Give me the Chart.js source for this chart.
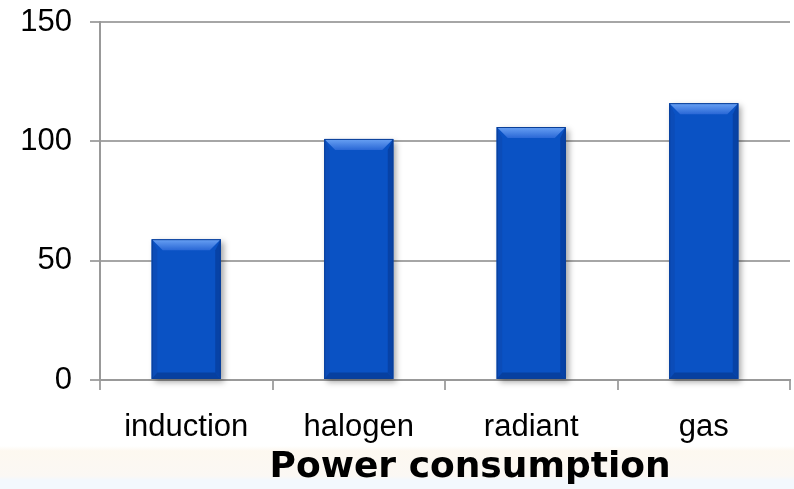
<!DOCTYPE html>
<html>
<head>
<meta charset="utf-8">
<script src="https://cdn.jsdelivr.net/npm/chart.js@4"></script>
<style>
  html, body { margin: 0; padding: 0; background: #fff; }
  #wrap { position: relative; width: 794px; height: 489px;
    background: linear-gradient(to bottom, #fff 0px, #fff 446px, #fdf8f0 451px, #fbf8f4 476px, #f3f8fd 480px, #f3f8fd 489px); }
</style>
</head>
<body>
<div id="wrap"><canvas id="myChart" width="794" height="489"></canvas></div>
<script>
const categories = ["induction", "halogen", "radiant", "gas"];
const values = [59, 101, 106, 116];
const yTicks = [0, 50, 100, 150];
const axisTitle = "\u00a0\u00a0\u00a0\u00a0Power consumption";

// draws the bevelled look of the bars on top of the flat fill
const bevel = {
  id: "bevel",
  beforeDatasetsDraw(chart) {
    const ctx = chart.ctx;
    ctx.save();
    ctx.shadowColor = "rgba(0,0,0,0.35)";
    ctx.shadowBlur = 6;
    ctx.shadowOffsetX = 3;
    ctx.shadowOffsetY = 3;
    chart.getDatasetMeta(0).data.forEach(b => {
      ctx.fillStyle = "#0a52c4";
      ctx.fillRect(b.x - b.width / 2, b.y, b.width, b.base - b.y);
    });
    ctx.restore();
  },
  afterDatasetsDraw(chart) {
    const ctx = chart.ctx;
    const s = 11;
    chart.getDatasetMeta(0).data.forEach(b => {
      const l = b.x - b.width / 2, r = b.x + b.width / 2, t = b.y, bt = b.base;
      ctx.save();
      // top
      let g = ctx.createLinearGradient(0, t, 0, t + s);
      g.addColorStop(0, "#6aa2f4");
      g.addColorStop(1, "#2a68d6");
      ctx.fillStyle = g;
      ctx.beginPath();
      ctx.moveTo(l, t); ctx.lineTo(r, t); ctx.lineTo(r - s, t + s); ctx.lineTo(l + s, t + s);
      ctx.closePath(); ctx.fill();
      // left
      ctx.fillStyle = "#0b4cb8";
      ctx.beginPath();
      ctx.moveTo(l, t); ctx.lineTo(l + s * 0.5, t + s); ctx.lineTo(l + s * 0.5, bt - s * 0.6); ctx.lineTo(l, bt);
      ctx.closePath(); ctx.fill();
      // right
      ctx.fillStyle = "#0742a6";
      ctx.beginPath();
      ctx.moveTo(r, t); ctx.lineTo(r - s * 0.5, t + s); ctx.lineTo(r - s * 0.5, bt - s * 0.6); ctx.lineTo(r, bt);
      ctx.closePath(); ctx.fill();
      // bottom
      ctx.fillStyle = "#0740a0";
      ctx.beginPath();
      ctx.moveTo(l, bt); ctx.lineTo(l + s * 0.5, bt - s * 0.6); ctx.lineTo(r - s * 0.5, bt - s * 0.6); ctx.lineTo(r, bt);
      ctx.closePath(); ctx.fill();
      ctx.strokeStyle = "#0a3f98";
      ctx.lineWidth = 1;
      ctx.strokeRect(l + 0.5, t + 0.5, b.width - 1, bt - t - 1);
      ctx.restore();
    });
  }
};

const ctx = document.getElementById("myChart");
new Chart(ctx, {
  type: "bar",
  data: {
    labels: categories,
    datasets: [{
      data: values,
      backgroundColor: "#0a52c4",
      borderWidth: 0,
      categoryPercentage: 0.4,
      barPercentage: 1
    }]
  },
  options: {
    responsive: false,
    animation: false,
    layout: { padding: { top: 22, right: 4, left: 0, bottom: 0 } },
    plugins: { legend: { display: false }, tooltip: { enabled: false } },
    scales: {
      y: {
        min: 0, max: 150,
        afterFit(scale) { scale.width = 100; scale.paddingTop = 0; },
        afterBuildTicks(scale) { scale.ticks = yTicks.map(v => ({ value: v })); },
        border: { color: "#999", width: 2 },
        grid: { color: "#a6a6a6", lineWidth: 2, tickLength: 10 },
        ticks: { color: "#000", padding: 18, font: { family: "Liberation Sans", size: 31, lineHeight: 0.6 } }
      },
      x: {
        afterFit(scale) { scale.height = 109; },
        border: { color: "#999", width: 2 },
        grid: { offset: true, drawOnChartArea: false, color: "#a6a6a6", lineWidth: 2, tickLength: 10 },
        ticks: { color: "#000", padding: 19, font: { family: "Liberation Sans", size: 31 } },
        title: {
          display: true, text: axisTitle, color: "#000",
          font: { family: "DejaVu Sans", weight: "bold", size: 36 },
          padding: { top: 0, bottom: 0 }
        }
      }
    }
  },
  plugins: [bevel]
});
</script>
</body>
</html>
